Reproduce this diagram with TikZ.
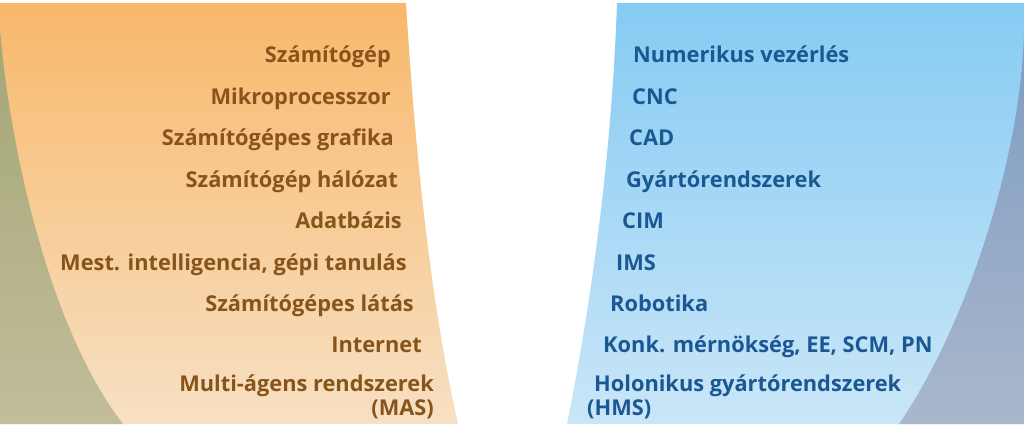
\documentclass[tikz,border=0pt]{standalone}
\usepackage{fontspec}
\setmainfont{Open Sans}
\definecolor{orTop}{HTML}{F8B86B}
\definecolor{orMid}{HTML}{FAD09D}
\definecolor{orBot}{HTML}{F7E0C3}
\definecolor{olTop}{HTML}{A3A676}
\definecolor{olBot}{HTML}{C2BD9A}
\definecolor{blTop}{HTML}{86CBF3}
\definecolor{blBot}{HTML}{CAE6F8}
\definecolor{gbTop}{HTML}{7E9CC4}
\definecolor{gbBot}{HTML}{A9B7CB}
\definecolor{brownTxt}{HTML}{87551C}
\definecolor{blueTxt}{HTML}{1B5893}
\tikzset{
  lefttxt/.style={anchor=base east, inner sep=0pt, text=brownTxt, font=\fontsize{21.8}{24}\selectfont\bfseries},
  righttxt/.style={anchor=base west, inner sep=0pt, text=blueTxt, font=\fontsize{21.8}{24}\selectfont\bfseries}
}
\begin{document}
\begin{tikzpicture}[x=1pt,y=-1pt]
\useasboundingbox (0,0) rectangle (1024,424);
\fill[white] (0,0) rectangle (1024,424);
% orange region
\shade[top color=orTop, middle color=orMid, bottom color=orBot]
  (0,3) -- (406,3) .. controls (415,150) and (430,300) .. (458,424) -- (0,424) -- cycle;
% olive region
\shade[top color=olTop, bottom color=olBot]
  (0,30) .. controls (10,150) and (50,330) .. (123,424) -- (0,424) -- cycle;
% blue region
\shade[top color=blTop, bottom color=blBot]
  (617,3) -- (1024,3) -- (1024,424) -- (567,424) .. controls (592,300) and (612,150) .. (617,3) -- cycle;
% gray-blue region
\shade[top color=gbTop, bottom color=gbBot]
  (1024,30) .. controls (1022,150) and (970,320) .. (899,424) -- (1024,424) -- cycle;
% left texts
\node[lefttxt] (l1) at (391,62) {Számítógép};
\node[lefttxt] (l2) at (391,104) {Mikroprocesszor};
\node[lefttxt] (l3) at (394,145) {Számítógépes grafika};
\node[lefttxt] (l4) at (398,187) {Számítógép hálózat};
\node[lefttxt] (l5) at (402,228) {Adatbázis};
\node[lefttxt] (l6) at (407,270) {Mest. intelligencia, gépi tanulás};
\node[lefttxt] (l7) at (414,311) {Számítógépes látás};
\node[lefttxt] (l8) at (422,352) {Internet};
\node[lefttxt] (l9) at (434,391) {Multi-ágens rendszerek};
\node[lefttxt] (l10) at (434,415) {(MAS)};
% right texts
\node[righttxt] (r1) at (633,62) {Numerikus vezérlés};
\node[righttxt] (r2) at (632,104) {CNC};
\node[righttxt] (r3) at (629,145) {CAD};
\node[righttxt] (r4) at (626,187) {Gyártórendszerek};
\node[righttxt] (r5) at (622,228) {CIM};
\node[righttxt] (r6) at (616,270) {IMS};
\node[righttxt] (r7) at (610,311) {Robotika};
\node[righttxt] (r8) at (603,352) {Konk. mérnökség, EE, SCM, PN};
\node[righttxt] (r9) at (594,391) {Holonikus gyártórendszerek};
\node[righttxt] (r10) at (587,415) {(HMS)};
\end{tikzpicture}
\end{document}
